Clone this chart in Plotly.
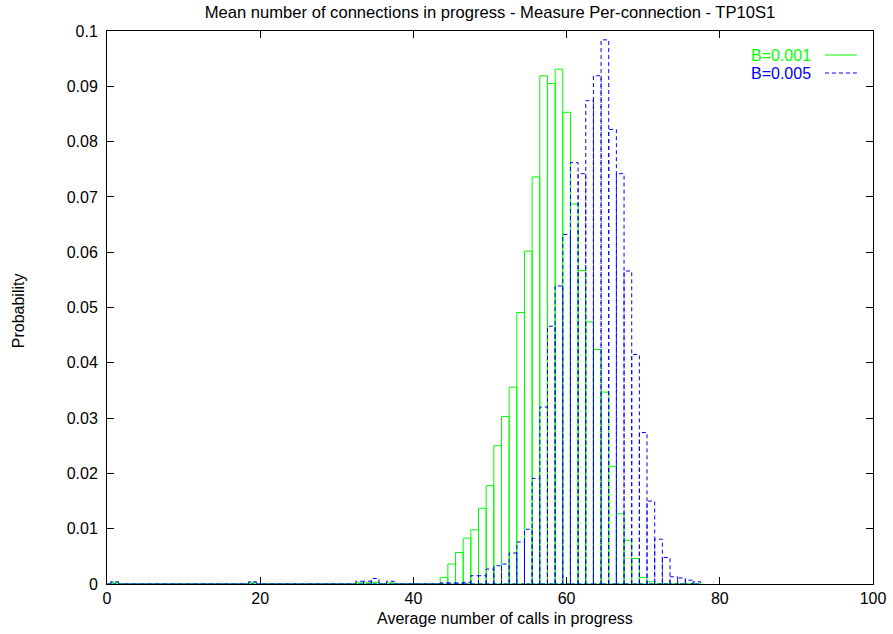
import plotly.graph_objects as go

# Bin centres (average number of calls in progress)
bins = list(range(0, 78))

# B=0.001 (green) probabilities per bin 0..77
green_vals = [
    0, 0.0003, 0, 0, 0, 0, 0, 0, 0, 0,            # 0-9
    0, 0, 0, 0, 0, 0, 0, 0, 0, 0.0003,             # 10-19
    0, 0, 0, 0, 0, 0, 0, 0, 0, 0,                  # 20-29
    0, 0, 0, 0.0002, 0.0002, 0.0003, 0, 0.0002, 0, 0,  # 30-39
    0, 0, 0, 0, 0.0012, 0.0036, 0.0057, 0.0083, 0.0098, 0.0137,  # 40-49
    0.0178, 0.0250, 0.0303, 0.0356, 0.0491, 0.0602, 0.0736, 0.0919, 0.0905, 0.0931,  # 50-59
    0.0853, 0.0687, 0.0567, 0.0474, 0.0424, 0.0347, 0.0213, 0.0127, 0.0079, 0.0046,  # 60-69
    0.0012, 0.0004, 0, 0, 0, 0, 0, 0,              # 70-77
]

# B=0.005 (blue) probabilities per bin 0..77
blue_vals = [
    0, 0.0004, 0, 0, 0, 0, 0, 0, 0, 0,            # 0-9
    0, 0, 0, 0, 0, 0, 0, 0, 0, 0.0004,             # 10-19
    0, 0, 0, 0, 0, 0, 0, 0, 0, 0,                  # 20-29
    0, 0, 0, 0.0005, 0.0005, 0.0010, 0, 0.0005, 0, 0,  # 30-39
    0, 0, 0, 0, 0.0002, 0.0002, 0.0002, 0.0003, 0.0015, 0.0015,  # 40-49
    0.0027, 0.0033, 0.0036, 0.0056, 0.0076, 0.0099, 0.0191, 0.0320, 0.0466, 0.0539,  # 50-59
    0.0632, 0.0762, 0.0742, 0.0874, 0.0919, 0.0984, 0.0822, 0.0742, 0.0566, 0.0415,  # 60-69
    0.0274, 0.0150, 0.0081, 0.0048, 0.0013, 0.0011, 0.0007, 0.0004,  # 70-77
]

x_ticks = [0, 20, 40, 60, 80, 100]
y_ticks = [0, 0.01, 0.02, 0.03, 0.04, 0.05, 0.06, 0.07, 0.08, 0.09, 0.1]
y_tick_labels = ["0", "0.01", "0.02", "0.03", "0.04", "0.05", "0.06", "0.07", "0.08", "0.09", "0.1"]

series_names = ["B=0.001", "B=0.005"]
series_colors = ["#00ff00", "#0000ff"]

BOX_WIDTH = 1.0


def box_outline(xs, ys):
    px, py = [], []
    for xc, yv in zip(xs, ys):
        x0 = xc - BOX_WIDTH / 2
        x1 = xc + BOX_WIDTH / 2
        px += [x0, x0, x1, x1, x0, None]
        py += [0, yv, yv, 0, 0, None]
    return px, py


fig = go.Figure()

gx, gy = box_outline(bins, green_vals)
fig.add_trace(go.Scatter(x=gx, y=gy, mode="lines", name=series_names[0],
                         line=dict(color=series_colors[0], width=1),
                         showlegend=False, hoverinfo="skip"))
bx, by = box_outline(bins, blue_vals)
fig.add_trace(go.Scatter(x=bx, y=by, mode="lines", name=series_names[1],
                         line=dict(color=series_colors[1], width=1, dash="4px,3px"),
                         showlegend=False, hoverinfo="skip"))

font_family = "Liberation Sans, Arial, Helvetica, sans-serif"
FS = 16

# gnuplot-style legend (text then sample line), top right inside plot
legend_y = [0.9566, 0.924]
for name, col, ly, dash in zip(series_names, series_colors, legend_y, ["solid", "4px,3px"]):
    fig.add_annotation(xref="paper", yref="paper", x=0.9217, y=ly, text=name,
                       showarrow=False, xanchor="right", yanchor="middle",
                       font=dict(family=font_family, size=FS, color=col))
    fig.add_shape(type="line", xref="paper", yref="paper",
                  x0=0.9373, x1=0.979, y0=ly, y1=ly,
                  line=dict(color=col, width=1, dash=dash))

# axis titles as annotations for exact placement
fig.add_annotation(xref="paper", yref="paper", x=0.5196, y=-0.0615,
                   text="Average number of calls in progress", showarrow=False,
                   xanchor="center", yanchor="middle",
                   font=dict(family=font_family, size=FS, color="black"))
fig.add_annotation(xref="paper", yref="paper", x=-0.1162, y=0.495,
                   text="Probability", showarrow=False, textangle=-90,
                   xanchor="center", yanchor="middle",
                   font=dict(family=font_family, size=FS, color="black"))

fig.update_layout(
    width=893, height=634,
    margin=dict(l=107, r=20, t=31, b=50, autoexpand=False),
    paper_bgcolor="white", plot_bgcolor="white",
    font=dict(family=font_family, size=FS, color="black"),
    title=dict(text="Mean number of connections in progress - Measure Per-connection - TP10S1",
               x=0.5, xref="paper", xanchor="center", y=0.981, yref="container",
               yanchor="middle",
               font=dict(family=font_family, size=16.6, color="black")),
    showlegend=False,
)

fig.update_xaxes(
    range=[0, 100], tickvals=x_ticks, ticktext=[str(v) for v in x_ticks],
    ticks="inside", ticklen=7, tickcolor="black", mirror="ticks",
    showline=True, linecolor="black", linewidth=1, showgrid=False, zeroline=False,
    automargin=False,
    tickfont=dict(family=font_family, size=FS),
)
fig.update_yaxes(
    range=[0, 0.1], tickvals=y_ticks, ticktext=y_tick_labels,
    ticks="inside", ticklen=7, tickcolor="black", mirror="ticks",
    showline=True, linecolor="black", linewidth=1, showgrid=False, zeroline=False,
    automargin=False, ticklabelstandoff=5,
    tickfont=dict(family=font_family, size=FS),
)

# remove the default page margin so the figure sits at the window's top-left
fig.write_html("out.html",
               config={"displayModeBar": False},
               post_script="document.body.style.margin='0';document.body.style.padding='0';")
